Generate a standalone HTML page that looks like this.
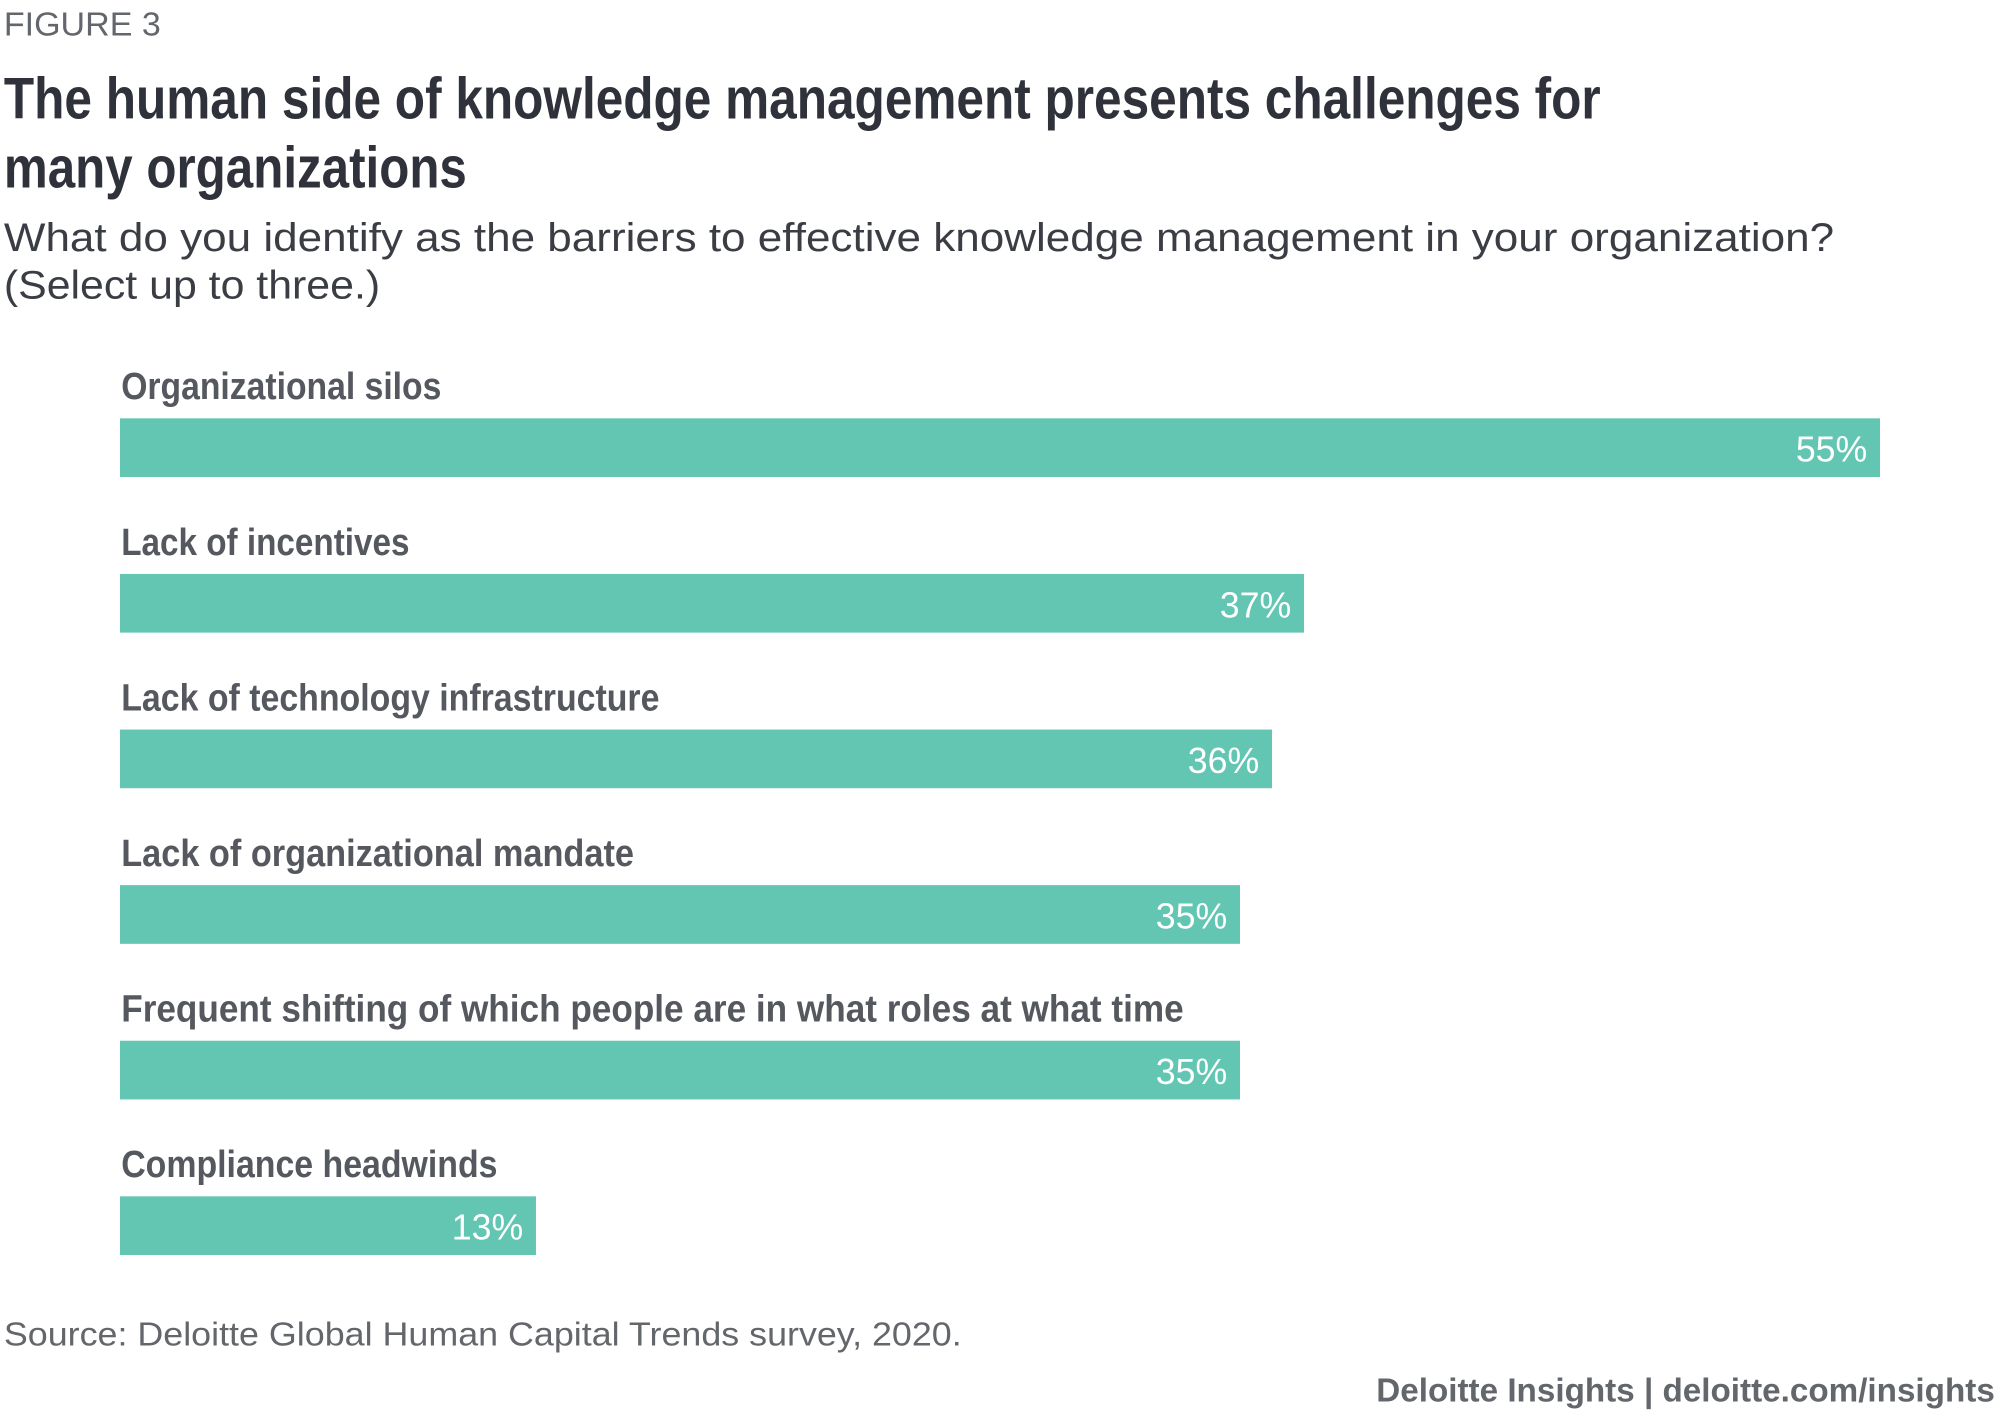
<!DOCTYPE html>
<html><head><meta charset="utf-8"><style>
html,body{margin:0;padding:0;background:#fff;width:2000px;height:1417px;overflow:hidden}
svg{display:block}
text{font-family:"Liberation Sans",sans-serif}
</style></head><body>
<svg id="chart" width="2000" height="1417" viewBox="0 0 1568 1111" xmlns="http://www.w3.org/2000/svg">
<text x="3" y="28" font-size="26" fill="#63666a" textLength="123" lengthAdjust="spacingAndGlyphs">FIGURE 3</text>
<text x="3" y="93" font-size="46" font-weight="bold" fill="#30323b" textLength="1252" lengthAdjust="spacingAndGlyphs">The human side of knowledge management presents challenges for</text>
<text x="3" y="147" font-size="46" font-weight="bold" fill="#30323b" textLength="363" lengthAdjust="spacingAndGlyphs">many organizations</text>
<text x="3" y="197" font-size="31" fill="#3b3d44" textLength="1435" lengthAdjust="spacingAndGlyphs">What do you identify as the barriers to effective knowledge management in your organization?</text>
<text x="3" y="234" font-size="31" fill="#3b3d44" textLength="295" lengthAdjust="spacingAndGlyphs">(Select up to three.)</text>
<g id="bars"></g>
<text x="3" y="1055" font-size="26" fill="#63666a" textLength="751" lengthAdjust="spacingAndGlyphs">Source: Deloitte Global Human Capital Trends survey, 2020.</text>
<text x="1079" y="1099" font-size="26" font-weight="bold" fill="#63666a" textLength="485" lengthAdjust="spacingAndGlyphs">Deloitte Insights | deloitte.com/insights</text>
</svg>
<script>
const categories = ["Organizational silos","Lack of incentives","Lack of technology infrastructure","Lack of organizational mandate","Frequent shifting of which people are in what roles at what time","Compliance headwinds"];
const values = [55,37,36,35,35,13];
const valueLabels = ["55%","37%","36%","35%","35%","13%"];
const labelWidths = [251,226,422,402,833,295];

const NS="http://www.w3.org/2000/svg";
const x0=94, pxPerPct=1380/55, top0=328, step=122, barH=46;
function xScale(v){return x0+v*pxPerPct;}
function yScale(i){return top0+i*step;}
const g=document.getElementById('bars');
categories.forEach((c,i)=>{
  const y=yScale(i);
  const lab=document.createElementNS(NS,'text');
  
  
  lab.setAttribute('x',95);lab.setAttribute('y',y-15);
  lab.setAttribute('font-size','30');lab.setAttribute('font-weight','bold');
  lab.setAttribute('fill','#55585e');
  lab.setAttribute('textLength',labelWidths[i]);lab.setAttribute('lengthAdjust','spacingAndGlyphs');
  lab.textContent=c;g.appendChild(lab);
  const r=document.createElementNS(NS,'rect');
  
  
  r.setAttribute('x',x0);r.setAttribute('y',y);
  r.setAttribute('width',xScale(values[i])-x0);r.setAttribute('height',barH);
  r.setAttribute('fill','#62c6b2');g.appendChild(r);
  const v=document.createElementNS(NS,'text');
  
  
  v.setAttribute('x',xScale(values[i])-10);v.setAttribute('y',y+34);
  v.setAttribute('text-anchor','end');v.setAttribute('font-size','28');
  v.setAttribute('fill','#ffffff');
  v.textContent=valueLabels[i];g.appendChild(v);
});
</script>
</body></html>
